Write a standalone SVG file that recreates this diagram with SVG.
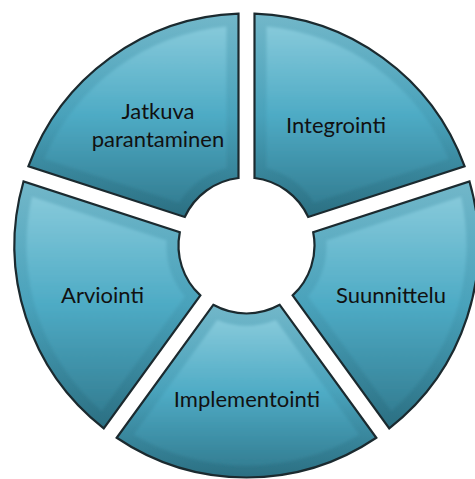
<svg xmlns="http://www.w3.org/2000/svg" width="475" height="479" viewBox="0 0 475 479">
<defs>
<linearGradient id="band" x1="0" y1="0" x2="0" y2="1">
<stop offset="0" stop-color="#72b7c9"/>
<stop offset="0.5" stop-color="#49a2bb"/>
<stop offset="1" stop-color="#2b6f82"/>
</linearGradient>
<linearGradient id="core" x1="0" y1="0" x2="0" y2="1">
<stop offset="0" stop-color="#86c9da"/>
<stop offset="0.5" stop-color="#4eabc5"/>
<stop offset="1" stop-color="#347f94"/>
</linearGradient>
<filter id="soft" x="-5%" y="-5%" width="110%" height="110%"><feGaussianBlur stdDeviation="1.5"/></filter>
</defs>
<style>
.seg{fill:url(#band);stroke:#1b2a2f;stroke-width:2.2;stroke-linejoin:miter}
.in{fill:url(#core);filter:url(#soft)}
.lbl{font-family:Lato,"Open Sans","Liberation Sans",sans-serif;font-size:22px;fill:#111;text-anchor:middle}
</style>
<g id="integrointi">
<path class="seg" d="M254.5,13.638 A232,232 0 0 1 464.542,166.242 L308.251,217.025 A68,68 0 0 0 254.5,177.972 Z"/>
<path class="in" d="M266.5,26.411 A220,220 0 0 1 448.686,158.777 L313.989,202.543 A80,80 0 0 0 266.5,168.04 Z"/>
<text class="lbl" x="336" y="133">Integrointi</text>
</g>
<g id="suunnittelu">
<path class="seg" d="M469.486,181.458 A232,232 0 0 1 389.257,428.379 L292.664,295.429 A68,68 0 0 0 313.195,232.241 Z"/>
<path class="in" d="M461.046,196.819 A220,220 0 0 1 391.457,410.991 L308.21,296.411 A80,80 0 0 0 326.349,240.585 Z"/>
<text class="lbl" x="391" y="303">Suunnittelu</text>
</g>
<g id="implementointi">
<path class="seg" d="M376.313,437.783 A232,232 0 0 1 116.687,437.783 L213.28,304.833 A68,68 0 0 0 279.72,304.833 Z"/>
<path class="in" d="M359.097,434.503 A220,220 0 0 1 133.903,434.503 L217.15,319.923 A80,80 0 0 0 275.85,319.923 Z"/>
<text class="lbl" x="247" y="407">Implementointi</text>
</g>
<g id="arviointi">
<path class="seg" d="M103.743,428.379 A232,232 0 0 1 23.514,181.458 L179.805,232.241 A68,68 0 0 0 200.336,295.429 Z"/>
<path class="in" d="M101.543,410.991 A220,220 0 0 1 31.954,196.819 L166.651,240.585 A80,80 0 0 0 184.79,296.411 Z"/>
<text class="lbl" x="102.5" y="303">Arviointi</text>
</g>
<g id="jatkuva">
<path class="seg" d="M28.458,166.242 A232,232 0 0 1 238.5,13.638 L238.5,177.972 A68,68 0 0 0 184.749,217.025 Z"/>
<path class="in" d="M44.314,158.777 A220,220 0 0 1 226.5,26.411 L226.5,168.04 A80,80 0 0 0 179.011,202.543 Z"/>
<text class="lbl" x="158" y="118.5">Jatkuva</text>
<text class="lbl" x="158" y="146.5">parantaminen</text>
</g>
<g id="connectors"/>
</svg>
